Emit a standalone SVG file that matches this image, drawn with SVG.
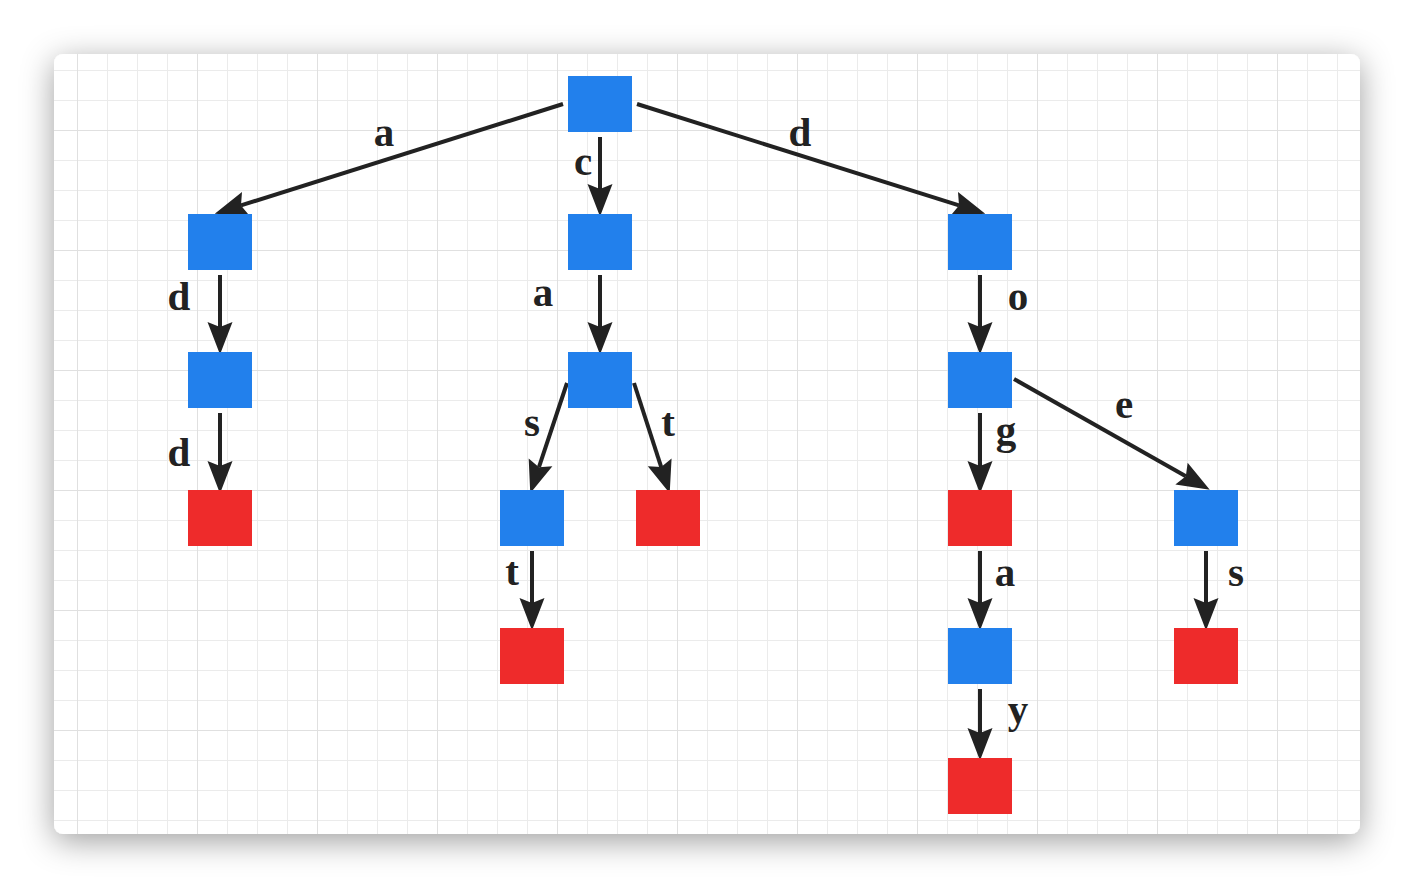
<svg xmlns="http://www.w3.org/2000/svg" width="1414" height="888" viewBox="0 0 1414 888">
  <defs>
    <filter id="cardShadow" x="-10%" y="-12%" width="120%" height="130%">
      <feDropShadow dx="0" dy="7" stdDeviation="16" flood-color="#000" flood-opacity="0.38"/>
    </filter>
    <pattern id="minorGrid" x="17" y="10" width="30" height="30" patternUnits="userSpaceOnUse">
      <path d="M0,0 H30 M0,0 V30" fill="none" stroke="#ebebeb" stroke-width="2"/>
    </pattern>
    <pattern id="majorGrid" x="77" y="10" width="120" height="120" patternUnits="userSpaceOnUse">
      <path d="M0,0 H120 M0,0 V120" fill="none" stroke="#e0e0e0" stroke-width="2"/>
    </pattern>
    <clipPath id="cardClip">
      <rect x="54" y="54" width="1306" height="780" rx="9"/>
    </clipPath>
    <marker id="arrow" markerUnits="userSpaceOnUse" markerWidth="40" markerHeight="30" viewBox="-6 -12 30 24" refX="0" refY="0" orient="auto" overflow="visible">
      <path d="M22,0 L-4,-10 L0,0 L-4,10 Z" fill="#222"/>
    </marker>
    <style>
      .blue { fill: #2280ec; }
      .red { fill: #ee2b2b; }
      .edge { stroke: #222; stroke-width: 4; fill: none; marker-end: url(#arrow); }
      .lbl { font-family: "Liberation Serif", "Times New Roman", serif; font-weight: bold; font-size: 41px; fill: #222; text-anchor: middle; }
    </style>
  </defs>

  <rect width="1414" height="888" fill="#ffffff"/>

  <!-- card with grid background -->
  <rect x="54" y="54" width="1306" height="780" rx="9" fill="#ffffff" filter="url(#cardShadow)"/>
  <g clip-path="url(#cardClip)">
    <rect x="54" y="54" width="1306" height="780" fill="url(#minorGrid)"/>
    <rect x="54" y="54" width="1306" height="780" fill="url(#majorGrid)"/>
  </g>

  <!-- connectors -->
  <g id="connectors">
    <line class="edge" x1="563" y1="104" x2="240.98" y2="205.39"/>
    <line class="edge" x1="600" y1="137" x2="600" y2="189"/>
    <line class="edge" x1="637" y1="104" x2="959.02" y2="205.39"/>
    <line class="edge" x1="220" y1="275" x2="220" y2="327"/>
    <line class="edge" x1="220" y1="413" x2="220" y2="466"/>
    <line class="edge" x1="600" y1="275" x2="600" y2="327"/>
    <line class="edge" x1="567" y1="383" x2="538.96" y2="467.13"/>
    <line class="edge" x1="634" y1="383" x2="661.22" y2="467.07"/>
    <line class="edge" x1="532" y1="551" x2="532" y2="603"/>
    <line class="edge" x1="980" y1="275" x2="980" y2="327"/>
    <line class="edge" x1="980" y1="413" x2="980" y2="466"/>
    <line class="edge" x1="1014" y1="379" x2="1185.85" y2="476.17"/>
    <line class="edge" x1="980" y1="551" x2="980" y2="603"/>
    <line class="edge" x1="980" y1="689" x2="980" y2="733"/>
    <line class="edge" x1="1206" y1="551" x2="1206" y2="603"/>
  </g>

  <!-- edge labels -->
  <g id="labels">
    <text class="lbl" x="384" y="146">a</text>
    <text class="lbl" x="583" y="175">c</text>
    <text class="lbl" x="800" y="146">d</text>
    <text class="lbl" x="179" y="310">d</text>
    <text class="lbl" x="543" y="306">a</text>
    <text class="lbl" x="1018" y="310">o</text>
    <text class="lbl" x="179" y="466">d</text>
    <text class="lbl" x="532" y="436">s</text>
    <text class="lbl" x="668" y="436">t</text>
    <text class="lbl" x="1006" y="444">g</text>
    <text class="lbl" x="1124" y="418">e</text>
    <text class="lbl" x="512" y="585">t</text>
    <text class="lbl" x="1005" y="586">a</text>
    <text class="lbl" x="1236" y="586">s</text>
    <text class="lbl" x="1018" y="723">y</text>
  </g>

  <!-- trie nodes -->
  <g id="root"><rect class="blue" x="568" y="76" width="64" height="56"/></g>
  <g id="n-a"><rect class="blue" x="188" y="214" width="64" height="56"/></g>
  <g id="n-c"><rect class="blue" x="568" y="214" width="64" height="56"/></g>
  <g id="n-d"><rect class="blue" x="948" y="214" width="64" height="56"/></g>
  <g id="n-ad"><rect class="blue" x="188" y="352" width="64" height="56"/></g>
  <g id="n-ca"><rect class="blue" x="568" y="352" width="64" height="56"/></g>
  <g id="n-do"><rect class="blue" x="948" y="352" width="64" height="56"/></g>
  <g id="n-add"><rect class="red" x="188" y="490" width="64" height="56"/></g>
  <g id="n-cas"><rect class="blue" x="500" y="490" width="64" height="56"/></g>
  <g id="n-cat"><rect class="red" x="636" y="490" width="64" height="56"/></g>
  <g id="n-dog"><rect class="red" x="948" y="490" width="64" height="56"/></g>
  <g id="n-doe"><rect class="blue" x="1174" y="490" width="64" height="56"/></g>
  <g id="n-cast"><rect class="red" x="500" y="628" width="64" height="56"/></g>
  <g id="n-doga"><rect class="blue" x="948" y="628" width="64" height="56"/></g>
  <g id="n-does"><rect class="red" x="1174" y="628" width="64" height="56"/></g>
  <g id="n-dogay"><rect class="red" x="948" y="758" width="64" height="56"/></g>
</svg>
